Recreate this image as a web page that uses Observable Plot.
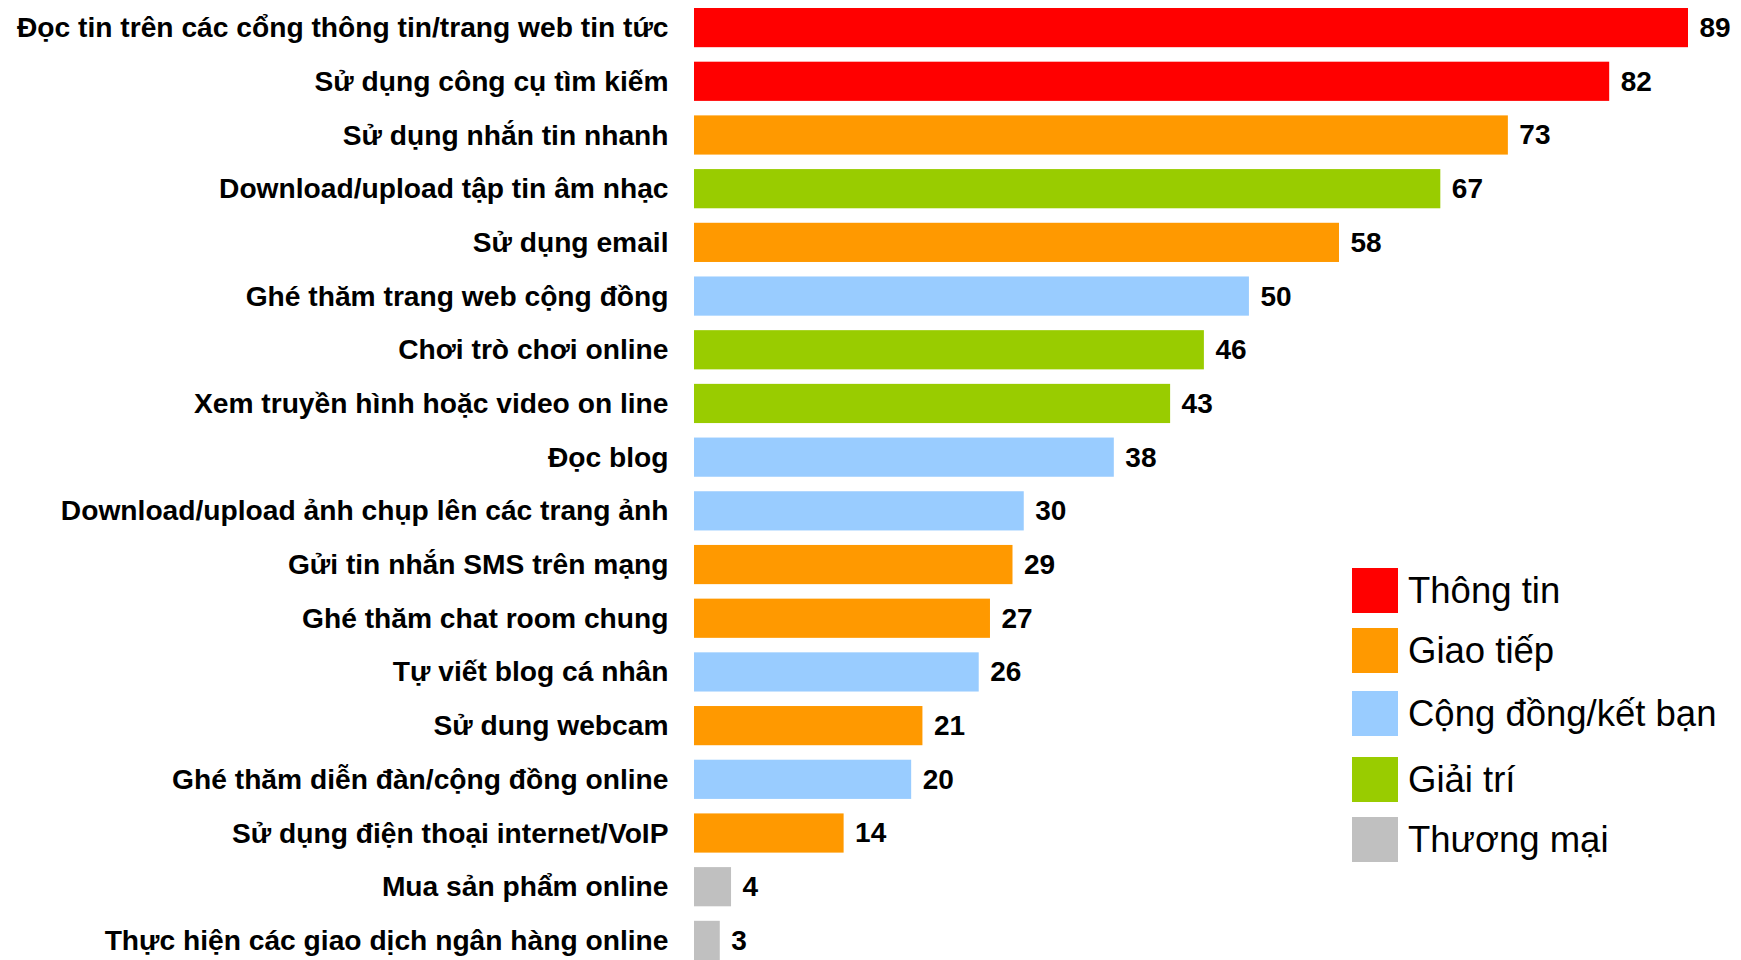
<!DOCTYPE html>
<html>
<head>
<meta charset="utf-8">
<script src="https://cdn.jsdelivr.net/npm/d3@7"></script>
<script src="https://cdn.jsdelivr.net/npm/@observablehq/plot@0.6"></script>
<style>
  html, body { margin: 0; padding: 0; background: #fff; }
  body { font-family: "Liberation Sans", Arial, sans-serif; }
  #wrap { position: relative; width: 1741px; height: 960px; overflow: hidden; }
  #legend { position: absolute; left: 1352px; top: 0; font-family: "Liberation Sans", Arial, sans-serif; }
  .item { position: absolute; left: 0; display: flex; align-items: center; white-space: nowrap; }
  .sw { width: 46px; height: 45px; flex: none; }
  .lab { margin-left: 10px; font-size: 36.5px; color: #000; line-height: 45px; }
</style>
</head>
<body>
<div id="wrap"><div id="chart"></div><div id="legend"></div></div>
<script>
const categories = [
  "Đọc tin trên các cổng thông tin/trang web tin tức",
  "Sử dụng công cụ tìm kiếm",
  "Sử dụng nhắn tin nhanh",
  "Download/upload tập tin âm nhạc",
  "Sử dụng email",
  "Ghé thăm trang web cộng đồng",
  "Chơi trò chơi online",
  "Xem truyền hình hoặc video on line",
  "Đọc blog",
  "Download/upload ảnh chụp lên các trang ảnh",
  "Gửi tin nhắn SMS trên mạng",
  "Ghé thăm chat room chung",
  "Tự viết blog cá nhân",
  "Sử dung webcam",
  "Ghé thăm diễn đàn/cộng đồng online",
  "Sử dụng điện thoại internet/VoIP",
  "Mua sản phẩm online",
  "Thực hiện các giao dịch ngân hàng online"
];
const values = [89, 82, 73, 67, 58, 50, 46, 43, 38, 30, 29, 27, 26, 21, 20, 14, 4, 3];
const groups = [
  "Thông tin", "Thông tin", "Giao tiếp", "Giải trí", "Giao tiếp",
  "Cộng đồng/kết bạn", "Giải trí", "Giải trí", "Cộng đồng/kết bạn",
  "Cộng đồng/kết bạn", "Giao tiếp", "Giao tiếp", "Cộng đồng/kết bạn",
  "Giao tiếp", "Cộng đồng/kết bạn", "Giao tiếp", "Thương mại", "Thương mại"
];
const groupNames = ["Thông tin", "Giao tiếp", "Cộng đồng/kết bạn", "Giải trí", "Thương mại"];
const groupColors = ["#FF0000", "#FF9900", "#99CCFF", "#99CC00", "#C0C0C0"];

const data = categories.map((c, i) => ({label: c, value: values[i], group: groups[i]}));

const chart = Plot.plot({
  width: 1741,
  height: 960,
  marginLeft: 686,
  marginRight: 53,
  marginTop: 8,
  marginBottom: 0,
  style: {fontFamily: "'Liberation Sans', Arial, sans-serif", background: "#fff", color: "#000"},
  x: {domain: [0, 89], axis: null},
  y: {domain: categories, paddingInner: 0.27, paddingOuter: 0, round: false, label: null},
  color: {domain: groupNames, range: groupColors},
  marks: [
    Plot.barX(data, {x: "value", y: "label", fill: "group", insetLeft: 8}),
    Plot.text(data, {x: "value", y: "label", text: d => String(d.value), textAnchor: "start", dx: 11, fontWeight: "bold", fontSize: 28, fill: "#000"}),
    Plot.axisY({tickSize: 0, tickPadding: 18, fontSize: 28.2, fontWeight: "bold", fill: "#000", label: null})
  ]
});
document.getElementById("chart").appendChild(chart);

const legendTops = [568, 628, 691, 757, 817];
const legend = document.getElementById("legend");
groupNames.forEach((g, i) => {
  const item = document.createElement("div");
  item.className = "item";
  item.style.top = legendTops[i] + "px";
  const sw = document.createElement("div");
  sw.className = "sw";
  sw.style.background = groupColors[i];
  const lab = document.createElement("span");
  lab.className = "lab";
  lab.textContent = g;
  item.appendChild(sw);
  item.appendChild(lab);
  legend.appendChild(item);
});
</script>
</body>
</html>
